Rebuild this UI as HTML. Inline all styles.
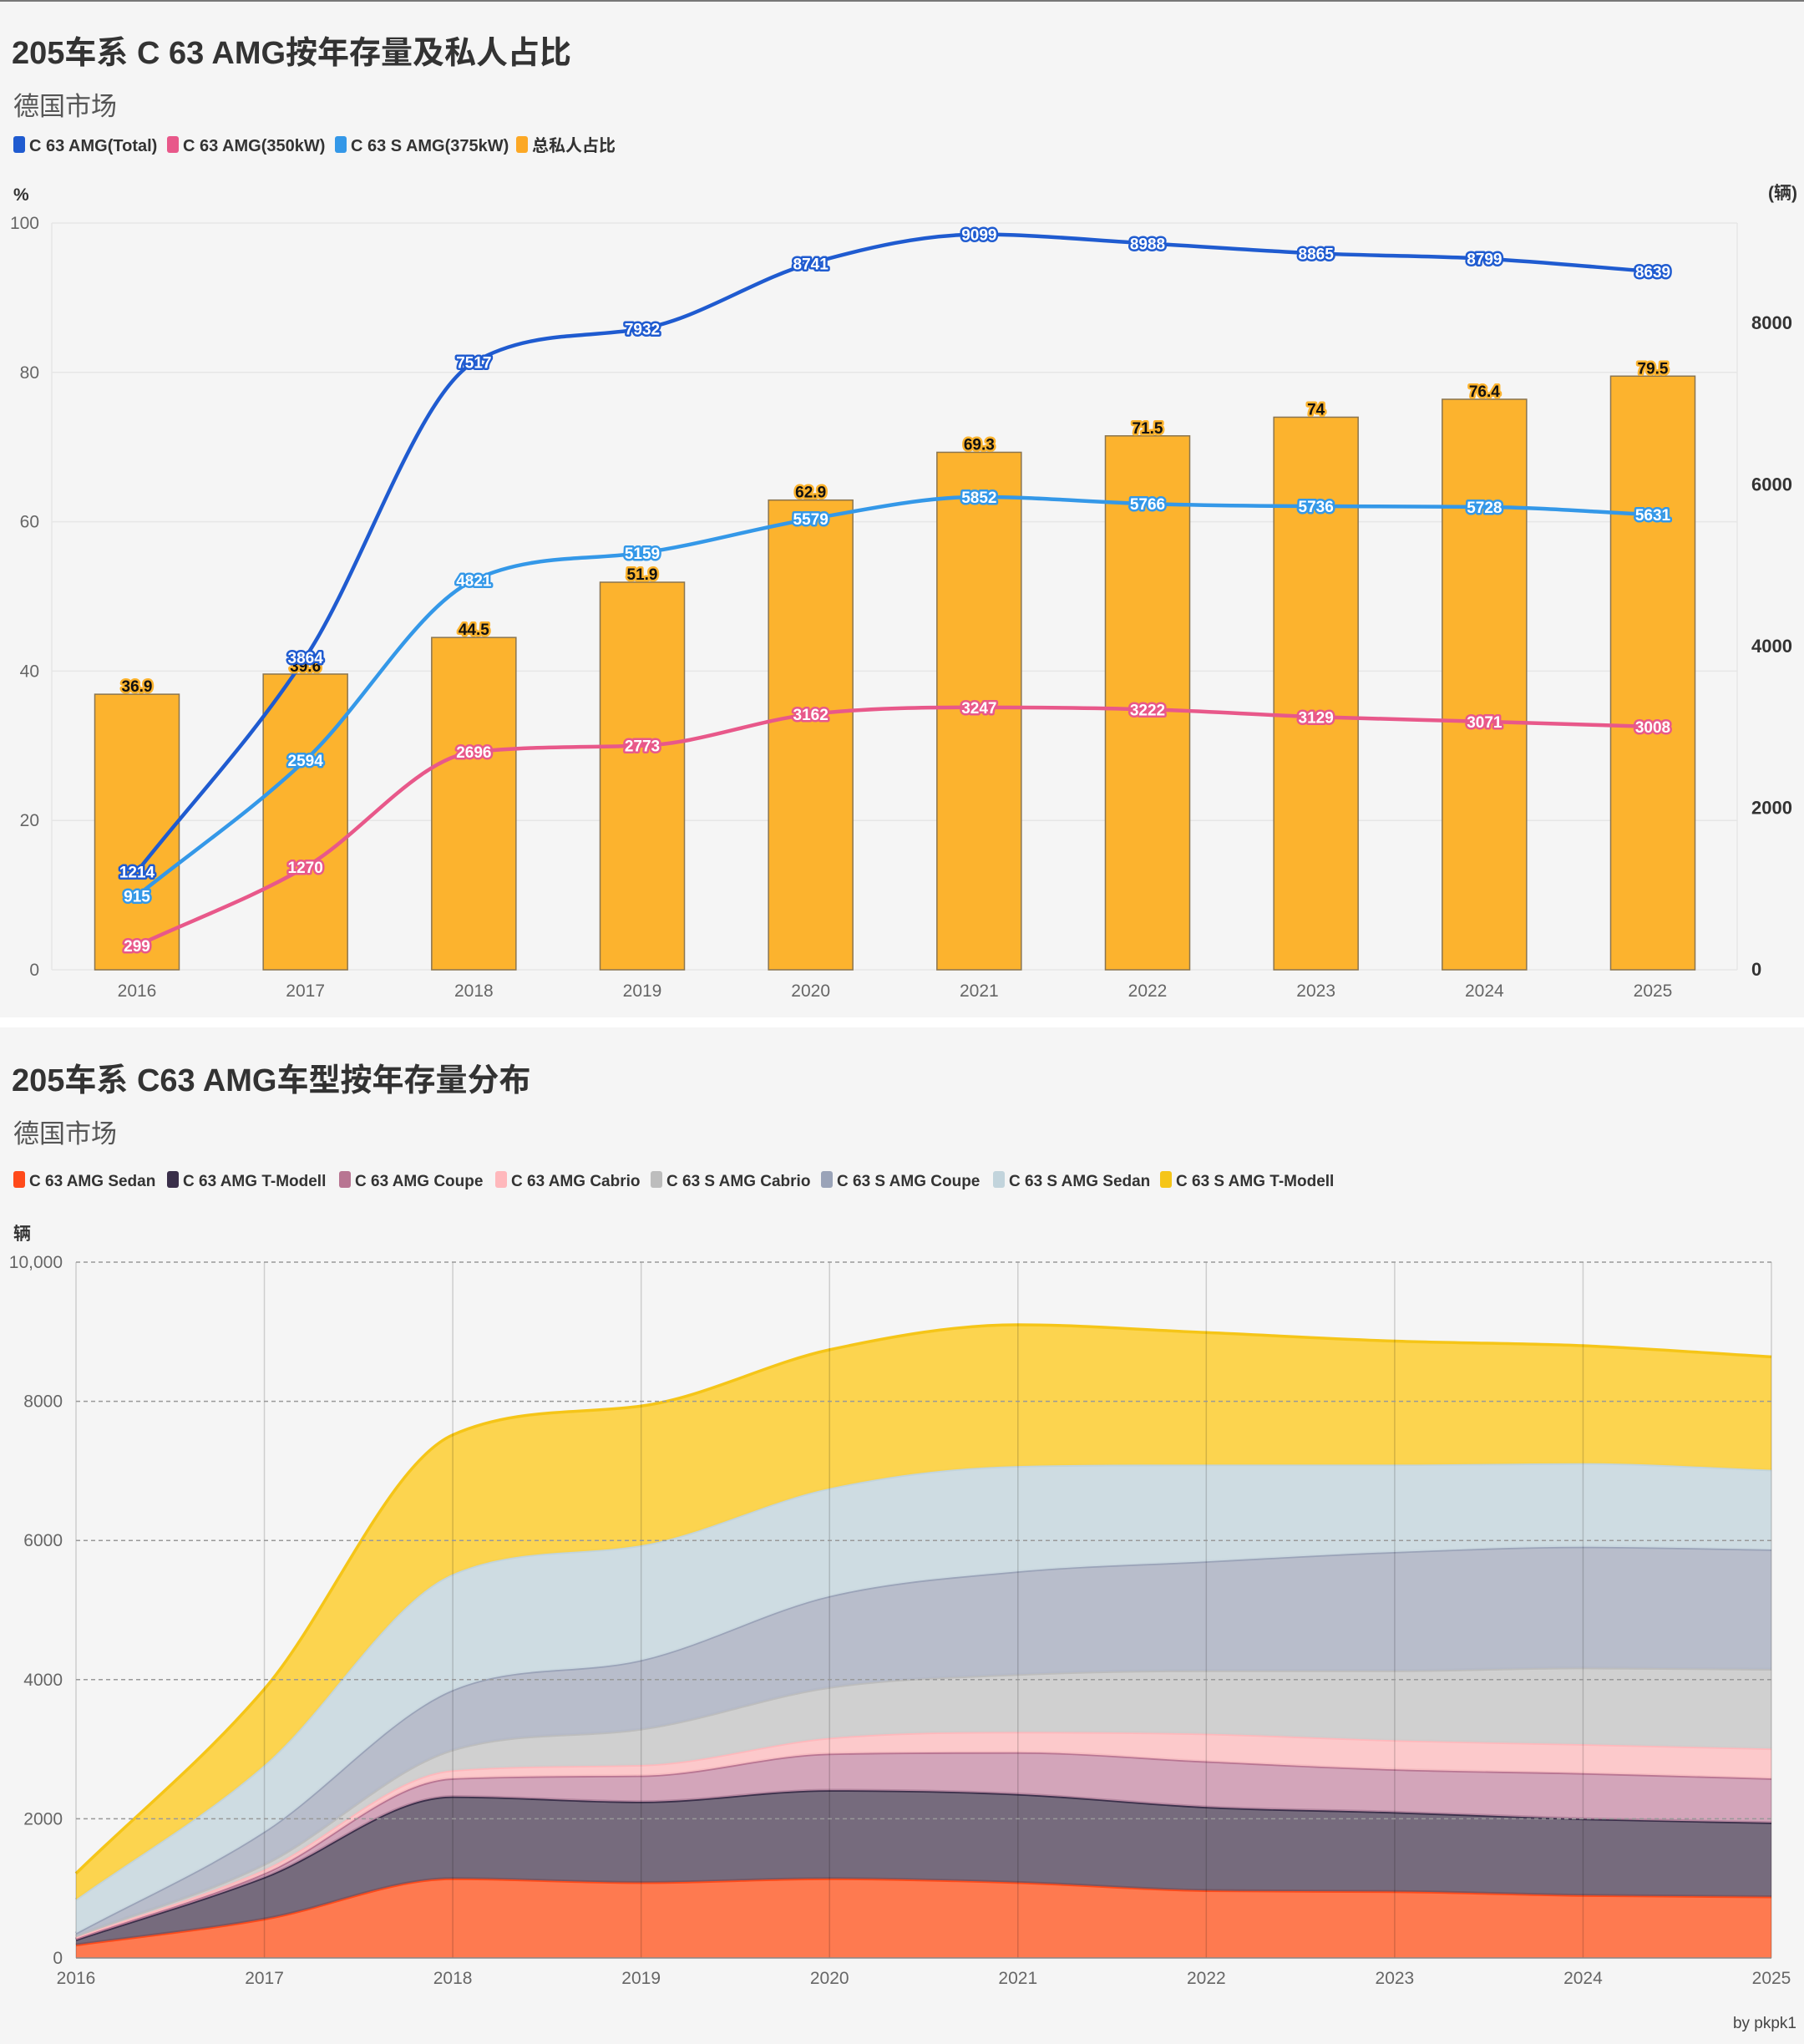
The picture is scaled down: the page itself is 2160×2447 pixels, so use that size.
<!DOCTYPE html>
<html><head><meta charset="utf-8"><style>
html,body{margin:0;padding:0;background:#f5f5f5;}
svg{display:block;font-family:"Liberation Sans","Noto Sans CJK SC",sans-serif;}
</style></head><body>
<svg id="c" width="2160" height="2447" viewBox="0 0 2160 2447" xmlns="http://www.w3.org/2000/svg">
<rect x="0" y="0" width="2160" height="2447" fill="#f5f5f5"/>
<rect x="0" y="0" width="2160" height="2" fill="#777"/>
<rect x="0" y="1218" width="2160" height="12" fill="#ffffff"/>
<text x="14" y="76" font-size="38" font-weight="bold" fill="#333">205车系 C 63 AMG按年存量及私人占比</text>
<text x="16" y="138" font-size="31" fill="#555">德国市场</text>
<text x="14" y="1306" font-size="38" font-weight="bold" fill="#333">205车系 C63 AMG车型按年存量分布</text>
<text x="16" y="1368" font-size="31" fill="#555">德国市场</text>
<text x="16" y="240" font-size="21" font-weight="bold" fill="#333">%</text>
<text x="2152" y="238" font-size="21" font-weight="bold" fill="#333" text-anchor="end">(辆)</text>
<text x="16" y="1484" font-size="21" font-weight="bold" fill="#333">辆</text>
<text x="2151" y="2428" font-size="19" fill="#444" text-anchor="end">by pkpk1</text>
<g id="topg"></g><g id="botg"></g>
</svg>
<script>
const years = ['2016','2017','2018','2019','2020','2021','2022','2023','2024','2025'];
const privateShare = [36.9,39.6,44.5,51.9,62.9,69.3,71.5,74,76.4,79.5];
const totalStock = [1214,3864,7517,7932,8741,9099,8988,8865,8799,8639];
const stock350 = [299,1270,2696,2773,3162,3247,3222,3129,3071,3008];
const stock375 = [915,2594,4821,5159,5579,5852,5766,5736,5728,5631];
const leftTicks = [0,20,40,60,80,100];
const rightTicks = [0,2000,4000,6000,8000];

const sedan = [187,560,1140,1085,1140,1085,970,955,900,880];
const tmodell = [75,600,1180,1160,1270,1270,1200,1140,1100,1065];
const coupe = [18,55,260,375,525,600,655,615,655,635];
const cabrio = [19,55,116,153,227,292,397,419,416,428];
const sCabrio = [19,75,294,517,728,828,908,1001,1099,1142];
const sCoupe = [37,470,860,990,1310,1480,1570,1705,1740,1720];
const sSedan = [485,955,1665,1650,1550,1515,1390,1255,1200,1145];
const sTmodell = [374,1094,2002,2002,1991,2029,1898,1775,1689,1624];
const botTicks = [0,2000,4000,6000,8000,10000];
const botTickLabels = ['0','2000','4000','6000','8000','10,000'];

const NS='http://www.w3.org/2000/svg';
function mk(parent,tag,attrs,text){const e=document.createElementNS(NS,tag);for(const k in attrs)e.setAttribute(k,attrs[k]);if(text!==undefined)e.textContent=text;parent.appendChild(e);return e;}
function mono(pts){
  const n=pts.length;if(n<2)return '';
  const dx=[],s=[];for(let i=0;i<n-1;i++){dx.push(pts[i+1][0]-pts[i][0]);s.push((pts[i+1][1]-pts[i][1])/dx[i]);}
  const m=[s[0]];for(let i=1;i<n-1;i++){m.push(s[i-1]*s[i]<=0?0:(s[i-1]+s[i])/2);}m.push(s[n-2]);
  for(let i=0;i<n-1;i++){if(s[i]===0){m[i]=0;m[i+1]=0;continue;}const a=m[i]/s[i],b=m[i+1]/s[i];const h=a*a+b*b;if(h>9){const t=3/Math.sqrt(h);m[i]=t*a*s[i];m[i+1]=t*b*s[i];}}
  let d='';for(let i=0;i<n-1;i++){const h=dx[i]/3;d+=` C${pts[i][0]+h},${pts[i][1]+m[i]*h} ${pts[i+1][0]-h},${pts[i+1][1]-m[i+1]*h} ${pts[i+1][0]},${pts[i+1][1]}`;}
  return d;
}
// ---------- top chart ----------
const topG=document.getElementById('topg');
const TX0=164,TX1=1979,PL=62,PR=2080;
const tx=i=>TX0+(TX1-TX0)*i/(years.length-1);
const ly=v=>1161-(1161-267)*v/100;
const ry=v=>1161-v*193.5/2000;
const legTop=[['C 63 AMG(Total)','#1f5bd0',16],['C 63 AMG(350kW)','#e8588a',200],['C 63 S AMG(375kW)','#3498e8',401],['总私人占比','#fca825',618]];
legTop.forEach(l=>{const g=mk(topG,'g',{});


mk(g,'rect',{x:l[2],y:163,width:14,height:20,rx:3,fill:l[1]});mk(g,'text',{x:l[2]+19,y:181,'font-size':20,'font-weight':'bold',fill:'#333'},l[0]);});
leftTicks.forEach(v=>{const y=ly(v);
const gl=mk(topG,'line',{x1:PL,x2:PR,y1:y,y2:y,stroke:'#e6e6e6','stroke-width':1.5});


const t=mk(topG,'text',{x:47,y:y+7,'font-size':21,fill:'#666','text-anchor':'end'},String(v));

});
mk(topG,'line',{x1:PL,x2:PL,y1:267,y2:1161,stroke:'#e6e6e6','stroke-width':1.5});
mk(topG,'line',{x1:PR,x2:PR,y1:267,y2:1161,stroke:'#e6e6e6','stroke-width':1.5});
rightTicks.forEach(v=>{const t=mk(topG,'text',{x:2097,y:ry(v)+7,'font-size':22,'font-weight':'bold',fill:'#333'},String(v));

});
years.forEach((yr,i)=>{const t=mk(topG,'text',{x:tx(i),y:1193,'font-size':21,fill:'#666','text-anchor':'middle'},yr);

});
privateShare.forEach((v,i)=>{const b=mk(topG,'rect',{x:tx(i)-50.5,y:ly(v),width:101,height:1161-ly(v),fill:'#fcb32e',stroke:'#8a7550','stroke-width':1.5});

});
function line(arr,color,name){const pts=arr.map((v,i)=>[tx(i),ry(v)]);
const p=mk(topG,'path',{d:'M'+pts[0][0]+','+pts[0][1]+mono(pts),fill:'none',stroke:color,'stroke-width':4.5});


return pts;}
const pT=line(totalStock,'#1f5bd0','line-total');
const p5=line(stock375,'#3498e8','line-375kw');
const p3=line(stock350,'#e8588a','line-350kw');
function lab(x,y,txt,fill,stroke,name){const t=mk(topG,'text',{x:x,y:y,'font-size':19,'font-weight':'bold',fill:fill,stroke:stroke,'stroke-width':5,'paint-order':'stroke','stroke-linejoin':'round','text-anchor':'middle'},txt);

}
privateShare.forEach((v,i)=>lab(tx(i),ly(v)-3,String(v),'#111','#fcb32e','bar-label'));
totalStock.forEach((v,i)=>lab(pT[i][0],pT[i][1]+7,String(v),'#fff','#1f5bd0','total-label'));
stock375.forEach((v,i)=>lab(p5[i][0],p5[i][1]+7,String(v),'#fff','#3498e8','375kw-label'));
stock350.forEach((v,i)=>lab(p3[i][0],p3[i][1]+7,String(v),'#fff','#e8588a','350kw-label'));
// ---------- bottom chart ----------
const botG=document.getElementById('botg');
const BX0=91,BX1=2121,BY0=2344,BY1=1511;
const bx=i=>BX0+(BX1-BX0)*i/(years.length-1);
const by=v=>BY0-(BY0-BY1)*v/10000;
const series=[['C 63 AMG Sedan',sedan,'#ff4a1a','rgba(255,100,50,0.85)',16],
['C 63 AMG T-Modell',tmodell,'#3a2f4a','rgba(100,88,108,0.88)',200],
['C 63 AMG Coupe',coupe,'#b87592','rgba(205,150,175,0.85)',406],
['C 63 AMG Cabrio',cabrio,'#ffb8bc','rgba(253,196,198,0.9)',593],
['C 63 S AMG Cabrio',sCabrio,'#bdbdbd','rgba(205,205,205,0.95)',779],
['C 63 S AMG Coupe',sCoupe,'#9aa3b8','rgba(180,185,200,0.95)',983],
['C 63 S AMG Sedan',sSedan,'#c2d4dc','rgba(203,218,224,0.95)',1189],
['C 63 S AMG T-Modell',sTmodell,'#f5c518','rgba(252,210,70,0.95)',1389]];
series.forEach(s=>{const g=mk(botG,'g',{});


mk(g,'rect',{x:s[4],y:1402,width:14,height:20,rx:3,fill:s[2]});mk(g,'text',{x:s[4]+19,y:1420,'font-size':19,'font-weight':'bold',fill:'#333'},s[0]);});
years.forEach((yr,i)=>{const t=mk(botG,'text',{x:bx(i),y:2375,'font-size':21,fill:'#666','text-anchor':'middle'},yr);

});
let cum=years.map(()=>0);const areas=mk(botG,'g',{});
series.forEach(s=>{const next=cum.map((c,i)=>c+s[1][i]);
const tp=next.map((v,i)=>[bx(i),by(v)]);const bp=cum.map((v,i)=>[bx(i),by(v)]).reverse();
const d='M'+tp[0][0]+','+tp[0][1]+mono(tp)+' L'+bp[0][0]+','+bp[0][1]+mono(bp)+' Z';
const a=mk(areas,'path',{d:d,fill:s[3],stroke:'none'});


const l=mk(areas,'path',{d:'M'+tp[0][0]+','+tp[0][1]+mono(tp),fill:'none',stroke:s[2],'stroke-width':3.5});


cum=next;});
years.forEach((yr,i)=>{const l=mk(botG,'line',{x1:bx(i),x2:bx(i),y1:BY1,y2:BY0,stroke:'rgba(0,0,0,0.16)','stroke-width':1.5});

});
botTicks.forEach((v,i)=>{const y=by(v);
const attrs={x1:BX0,x2:BX1,y1:y,y2:y,stroke:v===0?'#888':'#999','stroke-width':1.5};
if(v!==0)attrs['stroke-dasharray']='5,4';
const gl=mk(botG,'line',attrs);


const t=mk(botG,'text',{x:75,y:y+7,'font-size':21,fill:'#666','text-anchor':'end'},botTickLabels[i]);

});
</script>
</body></html>
